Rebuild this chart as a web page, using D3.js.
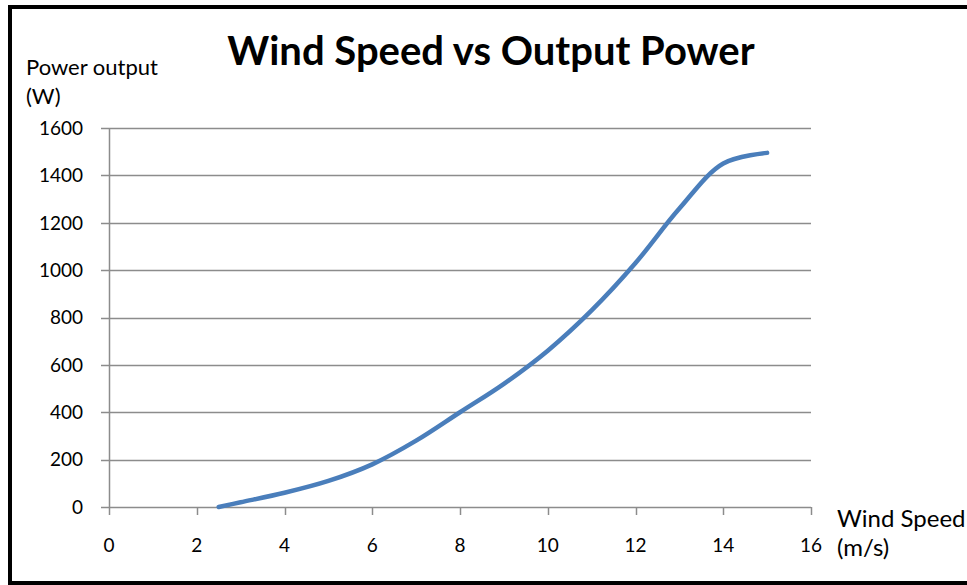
<!DOCTYPE html>
<html lang='en'>
  <head>
    <style type='text/css'>
      body {margin: 0; background-color: #fff;}
      #chart {width: 967px; height: 585px;}
      text {font-family: Lato, "Open Sans", sans-serif;}
    </style>
  </head>
  <body>
    <div id='chart'><svg width='967' height='585'></svg></div>

    <script src='https://cdn.jsdelivr.net/npm/d3@7'></script>
    <script type='text/javascript'>
        // wind speed (m/s) and power output (W)
        var windSpeed = [2.5, 3, 4, 5, 6, 7, 8, 9, 10, 11, 12, 13, 14, 15];
        var powerOut  = [0, 20, 60, 110, 180, 280, 400, 520, 660, 830, 1030, 1260, 1450, 1495];
        var xTicks = [0, 2, 4, 6, 8, 10, 12, 14, 16];
        var yTicks = [0, 200, 400, 600, 800, 1000, 1200, 1400, 1600];

        var svg = d3.select("svg");
        var gridColor = "#8c8c8c";

        // outer frame
        svg.append("rect")
          .attr("x", 10).attr("y", 7)
          .attr("width", 990).attr("height", 576)
          .attr("fill", "none")
          .attr("stroke", "#000")
          .attr("stroke-width", 4);

        var x = d3.scaleLinear().domain([0, 16]).range([109, 811]);
        var y = d3.scaleLinear().domain([0, 1600]).range([507, 128]);

        // horizontal gridlines, sticking out left like excel ticks
        svg.append("g").selectAll("line").data(yTicks)
          .enter().append("line")
            .attr("x1", 101).attr("x2", 811)
            .attr("y1", function(d) { return Math.round(y(d)) + 0.5; })
            .attr("y2", function(d) { return Math.round(y(d)) + 0.5; })
            .attr("stroke", gridColor)
            .attr("stroke-width", 1.5);

        // y axis line
        svg.append("line")
          .attr("x1", 109.5).attr("x2", 109.5)
          .attr("y1", y(1600)).attr("y2", y(0))
          .attr("stroke", gridColor)
          .attr("stroke-width", 1.5);

        // x ticks
        svg.append("g").selectAll("line").data(xTicks)
          .enter().append("line")
            .attr("x1", function(d) { return Math.round(x(d)) + 0.5; })
            .attr("x2", function(d) { return Math.round(x(d)) + 0.5; })
            .attr("y1", y(0)).attr("y2", y(0) + 8)
            .attr("stroke", gridColor)
            .attr("stroke-width", 1.5);

        // tick labels
        svg.append("g").selectAll("text").data(yTicks)
          .enter().append("text")
            .attr("x", 83)
            .attr("y", function(d) { return y(d); })
            .attr("dy", "0.36em")
            .attr("text-anchor", "end")
            .attr("font-size", 19)
            .attr("fill", "#000")
            .text(function(d) { return d; });

        svg.append("g").selectAll("text").data(xTicks)
          .enter().append("text")
            .attr("x", function(d) { return x(d); })
            .attr("y", 552)
            .attr("text-anchor", "middle")
            .attr("font-size", 19)
            .attr("fill", "#000")
            .text(function(d) { return d; });

        // the power curve
        var pts = windSpeed.map(function(d, i) { return [d, powerOut[i]]; });
        var line = d3.line()
          .x(function(d) { return x(d[0]); })
          .y(function(d) { return y(d[1]); })
          .curve(d3.curveCatmullRom.alpha(0.5));

        svg.append("path")
          .datum(pts)
          .attr("d", line)
          .attr("fill", "none")
          .attr("stroke", "#4a7ebb")
          .attr("stroke-width", 4.5)
          .attr("stroke-linecap", "round");

        // title and axis names
        svg.append("text")
          .attr("x", 491).attr("y", 65)
          .attr("text-anchor", "middle")
          .attr("font-size", 40)
          .attr("font-weight", "bold")
          .text("Wind Speed vs Output Power");

        svg.append("text").attr("x", 26).attr("y", 75)
          .attr("font-size", 22).text("Power output");
        svg.append("text").attr("x", 26).attr("y", 104)
          .attr("font-size", 22).text("(W)");

        svg.append("text").attr("x", 837).attr("y", 527)
          .attr("font-size", 24).text("Wind Speed");
        svg.append("text").attr("x", 837).attr("y", 556)
          .attr("font-size", 24).text("(m/s)");
    </script>
  </body>
</html>
